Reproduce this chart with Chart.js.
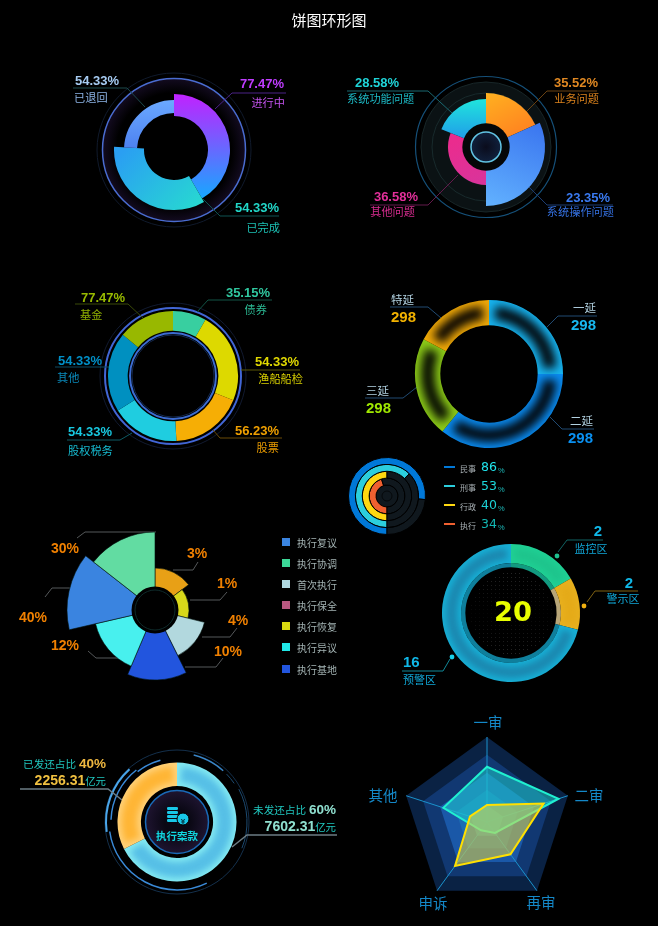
<!DOCTYPE html>
<html>
<head>
<meta charset="utf-8">
<script src="https://cdn.jsdelivr.net/npm/chart.js@4"></script>
<style>
html, body { margin: 0; background: #000; }
#stage { position: relative; width: 658px; height: 926px; overflow: hidden; background: #000;
  font-family: "Liberation Sans", "Noto Sans CJK SC", sans-serif; }
#stage canvas { position: absolute; z-index: 1; }
#under, #over { position: absolute; left: 0; top: 0; }
#under { z-index: 0; }
#over { z-index: 2; }
.t { position: absolute; z-index: 3; white-space: nowrap; line-height: 1; }
</style>
</head>
<body>
<div id="stage">
  <svg id="under" width="658" height="926">
    <defs>
      <radialGradient id="glow1"><stop offset="80%" stop-color="#000"/><stop offset="100%" stop-color="#130b20"/></radialGradient>
      <radialGradient id="core2"><stop offset="0%" stop-color="#0a0c1c"/><stop offset="100%" stop-color="#10203c"/></radialGradient>
      <radialGradient id="core7"><stop offset="40%" stop-color="#0a0814"/><stop offset="100%" stop-color="#1e1430"/></radialGradient>
    </defs>
  </svg>
  <svg id="over" width="658" height="926"></svg>
</div>
<script>
// 1 进行中 / 已完成 / 已退回
var statusNames = ['进行中', '已完成', '已退回'];
var statusSweep = [150, 123, 87];
var statusText = ['77.47%', '54.33%', '54.33%'];

// 2 问题分类
var issueNames = ['业务问题', '系统操作问题', '其他问题', '系统功能问题'];
var issueRadius = [54, 59, 38, 48];
var issueSweep = [65.7, 114.3, 111.6, 68.4];
var issueText = ['35.52%', '23.35%', '36.58%', '28.58%'];

// 3 资产
var assetNames = ['债券', '渔船船检', '股票', '股权税务', '其他', '基金'];
var assetSweep = [30, 82, 65, 61, 71.5, 50.5];
var assetText = ['35.15%', '54.33%', '56.23%', '54.33%', '54.33%', '77.47%'];

// 4 延期
var delayNames = ['一延', '二延', '三延', '特延'];
var delaySweep = [90, 129, 79, 62];
var delayText = ['298', '298', '298', '298'];

// small rings
var caseNames = ['民事', '刑事', '行政', '执行'];
var caseText = ['86', '53', '40', '34'];
var caseArc = [76.5, 62.5, 50, 45];

// 5 rose
var roseNames = ['执行复议', '执行协调', '首次执行', '执行保全', '执行恢复', '执行异议', '执行基地'];
var roseSliceNames = ['3%', '1%', '4%', '10%', '12%', '40%', '30%'];
var roseRadius = [42, 34, 51, 70, 61, 88, 78];
var roseSweep = [53, 51, 49.5, 49.5, 54, 51, 52];

// 6 区域
var zoneNames = ['监控区', '警示区', '预警区'];
var zoneSweep = [60, 44, 256];
var zoneText = ['2', '2', '16'];
var zoneTotal = '20';

// 7 案款
var fundNames = ['未发还', '已发还'];
var fundSweep = [243, 117];

// 8 radar
var radarNames = ['一审', '二审', '再审', '申诉', '其他'];
var radarCyan = [65, 88.5, 16, 12, 54];
var radarYellow = [20, 70, 47, 64, 21];
var radarLevels = [100, 79, 58, 38, 20];

var stage = document.getElementById('stage');
var under = document.getElementById('under');
var over = document.getElementById('over');
var SVGNS = 'http://www.w3.org/2000/svg';

function shape(layer, name, attrs) {
    var el = document.createElementNS(SVGNS, name);
    for (var k in attrs) el.setAttribute(k, attrs[k]);
    layer.appendChild(el);
    return el;
}
function ring(layer, cx, cy, r, stroke, w, fill) {
    shape(layer, 'circle', { cx: cx, cy: cy, r: r, stroke: stroke, 'stroke-width': w, fill: fill || 'none' });
}
function leader(points, color, w) {
    shape(under, 'polyline', { points: points, stroke: color, 'stroke-width': w || 1, fill: 'none' });
}
function arcLine(cx, cy, r, a0, a1, color, w) {
    var p = function (a) {
        var t = (a - 90) * Math.PI / 180;
        return (cx + r * Math.cos(t)).toFixed(1) + ' ' + (cy + r * Math.sin(t)).toFixed(1);
    };
    shape(under, 'path', { d: 'M' + p(a0) + ' A' + r + ' ' + r + ' 0 ' + (a1 - a0 > 180 ? 1 : 0) + ' 1 ' + p(a1),
        stroke: color, 'stroke-width': w, fill: 'none' });
}
// align: l, r or c. runs is a string or a list of [text, color, size, bold]
function put(x, y, runs, align, color, size, bold, extra) {
    var d = document.createElement('div');
    d.className = 't';
    if (typeof runs === 'string') runs = [[runs, color, size, bold]];
    runs.forEach(function (r) {
        var s = document.createElement('span');
        s.textContent = r[0];
        s.style.color = r[1];
        s.style.fontSize = r[2] + 'px';
        if (r[3]) s.style.fontWeight = 'bold';
        d.appendChild(s);
    });
    var tx = align === 'r' ? '-100%' : align === 'c' ? '-50%' : '0';
    d.style.left = x + 'px';
    d.style.top = y + 'px';
    d.style.transform = 'translate(' + tx + ',-50%)' + (extra || '');
    stage.appendChild(d);
    return d;
}
function mount(cx, cy, size) {
    var c = document.createElement('canvas');
    c.width = size;
    c.height = size;
    c.style.left = (cx - size / 2) + 'px';
    c.style.top = (cy - size / 2) + 'px';
    c.style.width = size + 'px';
    c.style.height = size + 'px';
    stage.appendChild(c);
    return c;
}
// gradient per slice, coordinates are relative to the chart centre
function grads(list) {
    return function (ctx) {
        var g = list[ctx.dataIndex];
        var m = ctx.chart.width / 2;
        var lg = ctx.chart.ctx.createLinearGradient(m + g[2], m + g[3], m + g[4], m + g[5]);
        lg.addColorStop(0, g[0]);
        lg.addColorStop(1, g[1]);
        return lg;
    };
}

function slicePath(ctx, a, ri, ro, s, e) {
    ctx.beginPath();
    ctx.arc(a.x, a.y, ro, s, e);
    ctx.arc(a.x, a.y, ri, e, s, true);
    ctx.closePath();
}
// every slice gets its own inner and outer radius
var sliceRadii = {
    id: 'sliceRadii',
    beforeDatasetsDraw: function (chart, args, opts) {
        if (!opts.outer) return;
        chart.getDatasetMeta(0).data.forEach(function (a, i) {
            a.outerRadius = opts.outer[i];
            a.innerRadius = opts.inner[i];
        });
    }
};
// soft core inside each slice so that only the rim stays bright
var sliceGlow = {
    id: 'sliceGlow',
    afterDatasetsDraw: function (chart, args, opts) {
        if (!opts.core) return;
        var ctx = chart.ctx;
        chart.getDatasetMeta(0).data.forEach(function (a, i) {
            var ri = a.innerRadius, ro = a.outerRadius;
            var da = opts.inset / ((ri + ro) / 2);
            ctx.save();
            slicePath(ctx, a, ri, ro, a.startAngle, a.endAngle);
            ctx.clip();
            ctx.filter = 'blur(' + opts.blur + 'px)';
            ctx.fillStyle = opts.core[i];
            slicePath(ctx, a, ri + opts.inset, ro - opts.inset, a.startAngle + da, a.endAngle - da);
            ctx.fill();
            ctx.restore();
        });
    }
};
Chart.defaults.animation = false;
Chart.defaults.responsive = false;
Chart.defaults.plugins.legend.display = false;
Chart.defaults.plugins.tooltip.enabled = false;
Chart.defaults.elements.arc.borderWidth = 0;
Chart.register(sliceRadii, sliceGlow);

put(329, 21, '饼图环形图', 'c', '#ffffff', 15);

// ---------- 1
ring(under, 174, 150, 77, '#101a2c', 1);
ring(under, 174, 150, 71.5, '#4a6cd0', 1.5, 'url(#glow1)');
new Chart(mount(174, 150, 130), {
    type: 'doughnut',
    data: { labels: statusNames, datasets: [{ data: statusSweep,
        backgroundColor: grads([
            ['#c41fff', '#14aaff', 0, -58, 0, 50],
            ['#2a9ff2', '#27dccf', -40, -10, 30, 60],
            ['#6ba9ff', '#4c80f0', 0, -50, 0, 0]
        ]) }] },
    options: { radius: 62, cutout: 30, plugins: { sliceRadii: { outer: [56, 60, 50], inner: [34, 30, 37] } } }
});
leader('73,88 127,88 145,107', '#1c4a4c');
leader('286,93 232,93 215,109', '#4a2286');
leader('279,216 220,216 203,199', '#0f5352');
put(75, 80, statusText[2], 'l', '#a6cbf2', 13, true);
put(74, 97, statusNames[2], 'l', '#8db4e6', 11.2);
put(284, 83, statusText[0], 'r', '#bf3cff', 13, true);
put(285, 102, statusNames[0], 'r', '#c452ef', 11.2);
put(279, 207, statusText[1], 'r', '#22d6c8', 13, true);
put(280, 227, statusNames[1], 'r', '#1cc0b4', 11.2);

// ---------- 2
ring(under, 486, 147, 70.5, '#155079', 1.2);
ring(under, 486, 147, 65, '#182628', 1, '#0b1214');
ring(under, 486, 147, 54, '#182a2c', 1);
ring(under, 486, 147, 38, '#101c1e', 1);
new Chart(mount(486, 147, 200), {
    type: 'polarArea',
    data: { labels: issueNames, datasets: [{ data: issueRadius, angle: issueSweep,
        backgroundColor: grads([
            ['#ffb020', '#ff7020', -5, -50, 30, 15],
            ['#3c78f0', '#62b2ff', 40, -25, 0, 59],
            ['#d8349c', '#ea2c8e', 0, 38, -20, -10],
            ['#20e8dc', '#20a0e8', 0, -50, 0, -10]
        ]) }] },
    options: { scales: { r: { display: false, min: 0, max: 100 } } }
});
ring(over, 486, 147, 23.7, 'none', 0, '#050708');
ring(over, 486, 147, 15, '#62c4e4', 1.5, 'url(#core2)');
leader('347,91 428,91 452,113', '#1a6870');
leader('597,91 547,91 526,112', '#6a4212');
leader('370,205 428,205 458,175', '#641a4c');
leader('613,205 547,205 529,187', '#1c3c72');
put(355, 82, issueText[3], 'l', '#1fd4d8', 13, true);
put(347, 98, issueNames[3], 'l', '#1cb8c4', 11.2);
put(598, 82, issueText[0], 'r', '#e08822', 13, true);
put(599, 98, issueNames[0], 'r', '#d8801c', 11.2);
put(418, 196, issueText[2], 'r', '#e2309a', 13, true);
put(415, 211, issueNames[2], 'r', '#d82c90', 11.2);
put(610, 197, issueText[1], 'r', '#3a7af0', 13, true);
put(614, 211, issueNames[1], 'r', '#3470e0', 11.2);

// ---------- 3
ring(under, 173, 376, 73, '#111a30', 1);
ring(under, 173, 376, 68, '#4266d6', 2);
ring(under, 173, 376, 43, '#3c6cd2', 2);
ring(under, 173, 376, 41, '#14284c', 1);
new Chart(mount(173, 376, 132), {
    type: 'doughnut',
    data: { labels: assetNames, datasets: [{ data: assetSweep,
        backgroundColor: ['#38cfa0', '#ddd900', '#f6ae05', '#1fcde0', '#0090c0', '#98b800'] }] },
    options: { radius: 65, cutout: 46 }
});
leader('75,304 128,304 143,318', '#3a4a08');
leader('272,300 208,300 197,312', '#125446');
leader('300,370 241,370', '#5a5606');
leader('282,438 220,438 213,430', '#6a4a06');
leader('67,440 120,440 132,433', '#0e5a64');
leader('55,367 112,367', '#0c4a62');
put(81, 297, assetText[5], 'l', '#98ba00', 13, true);
put(80, 314, assetNames[5], 'l', '#8eae00', 11.2);
put(270, 292, assetText[0], 'r', '#30c8a0', 13, true);
put(267, 309, assetNames[0], 'r', '#2cbc96', 11.2);
put(299, 361, assetText[1], 'r', '#e0d800', 13, true);
put(303, 378, assetNames[1], 'r', '#d6ce00', 11.2);
put(279, 430, assetText[2], 'r', '#f0a000', 13, true);
put(279, 447, assetNames[2], 'r', '#e89a00', 11.2);
put(68, 431, assetText[3], 'l', '#18c8e0', 13, true);
put(68, 450, assetNames[3], 'l', '#16bcd2', 11.2);
put(58, 360, assetText[4], 'l', '#0090c8', 13, true);
put(57, 377, assetNames[4], 'l', '#0a8abc', 11.2);

// ---------- 4
new Chart(mount(489, 374, 152), {
    type: 'doughnut',
    data: { labels: delayNames, datasets: [{ data: delaySweep,
        backgroundColor: ['#17b4f0', '#0a8cf2', '#8ccb18', '#f2aa08'] }] },
    options: { radius: 74, cutout: 50, plugins: { sliceGlow: {
        core: ['#03060a', '#03060a', '#040602', '#060402'], inset: 6, blur: 5 } } }
});
leader('597,316 558,316 547,327', '#204a72');
leader('594,429 562,429 550,417', '#204a72');
leader('365,398 403,398 417,387', '#204a72');
leader('390,307 428,307 441,318', '#204a72');
put(596, 307, delayNames[0], 'r', '#b2d2e2', 11.5);
put(596, 325, delayText[0], 'r', '#18b8f0', 15, true);
put(593, 420, delayNames[1], 'r', '#b2d2e2', 11.5);
put(593, 438, delayText[1], 'r', '#0a90f0', 15, true);
put(366, 390, delayNames[2], 'l', '#b2d2e2', 11.5);
put(366, 408, delayText[2], 'l', '#a0e800', 15, true);
put(391, 299, delayNames[3], 'l', '#b2d2e2', 11.5);
put(391, 317, delayText[3], 'l', '#f2b200', 15, true);

// ---------- small rings
var caseColors = ['#0078d8', '#2ccedd', '#ffd810', '#f06030'];
new Chart(mount(387, 496, 78), {
    type: 'doughnut',
    data: { labels: ['done', 'rest'], datasets: caseArc.map(function (v, i) {
        return { data: [v, 100 - v], backgroundColor: [caseColors[i], '#10181e'], borderColor: '#000', borderWidth: 1 };
    }) },
    options: { radius: 38.5, cutout: 11, rotation: 180 }
});
ring(under, 387, 496, 11, '#05080a', 1, '#10181e');
ring(under, 387, 496, 5, '#05080a', 1);
var caseRows = [467, 486, 505, 524];
var caseValueColors = ['#20e4ec', '#1cd8dc', '#1cd0d4', '#12b8b4'];
caseNames.forEach(function (n, i) {
    shape(under, 'rect', { x: 444, y: caseRows[i] - 1, width: 11, height: 2, fill: caseColors[i] });
    put(460, caseRows[i], n, 'l', '#a8b0b4', 8);
    var v = put(481, caseRows[i] - 1, caseText[i], 'l', caseValueColors[i], 12.5);
    v.style.fontFamily = '"DejaVu Sans", sans-serif';
    put(498, caseRows[i] + 1, '%', 'l', '#1cb8b8', 7.5);
});

// ---------- 5
new Chart(mount(155, 610, 200), {
    type: 'polarArea',
    data: { labels: roseSliceNames, datasets: [{ data: roseRadius, angle: roseSweep,
        backgroundColor: ['#e8a016', '#d8d81a', '#b2d8de', '#2255de', '#48f0ee', '#3a84e0', '#62dca2'],
        borderColor: '#04140f', borderWidth: 0.6 }] },
    options: { scales: { r: { display: false, min: 0, max: 100 } } }
});
ring(over, 155, 610, 23.5, 'none', 0, '#000');
ring(over, 155, 610, 20, '#0e2a2a', 1);
[['77,538 85,532 156,532', 65, 548, 6], ['198,562 193,570 173,570', 197, 553, 0],
 ['227,592 220,600 190,600', 227, 583, 1], ['237,628 230,637 202,637', 238, 620, 2],
 ['223,658 216,667 185,667', 228, 651, 3], ['88,651 96,658 122,658', 65, 645, 4],
 ['45,597 52,588 70,588', 33, 617, 5]].forEach(function (c) {
    leader(c[0], '#55585a');
    put(c[1], c[2], roseSliceNames[c[3]], 'c', '#f08000', 14, true);
});
var legendColors = ['#3a84e0', '#3cd898', '#b0d8e0', '#b85880', '#d8d810', '#20e8e8', '#2255de'];
var legendRows = [542, 563, 584, 605, 626, 647, 669];
roseNames.forEach(function (n, i) {
    shape(under, 'rect', { x: 282, y: legendRows[i] - 4, width: 8, height: 8, fill: legendColors[i] });
    put(297, legendRows[i], n, 'l', '#a4b4b4', 10);
});

// ---------- 6
for (var gx = -40; gx <= 40; gx += 4) {
    for (var gy = -40; gy <= 40; gy += 4) {
        var gr = Math.sqrt(gx * gx + gy * gy);
        if (gr < 41) shape(under, 'rect', { x: 511 + gx, y: 613 + gy, width: 1, height: 1, fill: '#262626',
            opacity: (0.15 + 0.85 * Math.abs(gy) / 40).toFixed(2) });
    }
}
new Chart(mount(511, 613, 142), {
    type: 'doughnut',
    data: { labels: zoneNames, datasets: [
        { data: zoneSweep, weight: 18, backgroundColor: ['#1fd094', '#e8b01e', '#17b0d6'] },
        { data: zoneSweep, weight: 4, backgroundColor: ['#129a80', '#b8a678', '#0f7f9c'] }
    ] },
    options: { radius: 69, cutout: 47, plugins: { sliceGlow: {
        core: ['#1ec48c', '#e4aa18', '#1b88b0'], inset: 4, blur: 3 } } }
});
leader('603,540 567,540 558,552', '#106464');
leader('638,591 595,591 587,602', '#806212');
leader('402,671 443,671 450,659', '#118898');
ring(under, 557, 556, 2.4, 'none', 0, '#1fc090');
ring(under, 584, 606, 2.4, 'none', 0, '#f0b010');
ring(under, 452, 657, 2.4, 'none', 0, '#18d0e8');
put(598, 531, zoneText[0], 'c', '#10b8e8', 15, true);
put(591, 548, zoneNames[0], 'c', '#10a8d8', 11);
put(629, 583, zoneText[1], 'c', '#10b8e8', 15, true);
put(623, 598, zoneNames[1], 'c', '#10a8d8', 11);
put(403, 662, zoneText[2], 'l', '#10b8e8', 15, true);
put(403, 679, zoneNames[2], 'l', '#10a8d8', 11);
var totalEl = put(513, 612, zoneTotal, 'c', '#e8ff00', 26, true, ' scaleX(1.05)');
totalEl.style.fontFamily = '"DejaVu Sans", sans-serif';

// ---------- 7
ring(under, 177, 822, 72, '#14304c', 1);
arcLine(177, 822, 71, 262, 318, '#4aa6ea', 2);
arcLine(177, 822, 66, 272, 322, '#3a8ad8', 1.5);
arcLine(177, 822, 68, 154, 262, '#3a8ad8', 1.5);
arcLine(177, 822, 64, 322, 345, '#3a8ad8', 1.5);
arcLine(177, 822, 69, 14, 42, '#3a86c8', 1.5);
arcLine(177, 822, 69, 46, 56, '#1c4a70', 1);
arcLine(177, 822, 70, 62, 112, '#1c4a70', 1);
new Chart(mount(177, 822, 122), {
    type: 'doughnut',
    data: { labels: fundNames, datasets: [{ data: fundSweep, backgroundColor: ['#84eaf2', '#ffd27a'] }] },
    options: { radius: 59.5, cutout: 37, plugins: { sliceGlow: { core: ['#56bfe6', '#ffb535'], inset: 4, blur: 3 } } }
});
ring(under, 177, 822, 31.5, '#1a6ab8', 1.5, 'url(#core7)');
[807, 811, 815, 819].forEach(function (y) {
    shape(under, 'rect', { x: 167, y: y, width: 11, height: 3, rx: 1.2, fill: '#18c8e8' });
});
ring(under, 183, 819, 6, '#000', 1, '#18c8e8');
put(183, 819, '¥', 'c', '#04303c', 8, true);
put(177, 835, '执行案款', 'c', '#10d8e0', 10.5, true);
leader('20,789 108,789 122,800', '#6c7c84', 1.5);
leader('337,835 247,835 232,847', '#6c7c84', 1.5);
put(106, 763, [['已发还占比 ', '#20c8c0', 10.6, false], ['40%', '#f0b840', 13.5, true]], 'r');
put(106, 780, [['2256.31', '#f0c040', 14, true], ['亿元', '#20c8c0', 10.4, false]], 'r');
put(336, 809, [['未发还占比 ', '#20c8c0', 10.6, false], ['60%', '#90e0d0', 13.5, true]], 'r');
put(336, 826, [['7602.31', '#90e0d0', 14, true], ['亿元', '#20c8c0', 10.4, false]], 'r');

// ---------- 8
var bandColors = ['#0a2244', '#113872', '#1a58a8', '#1b6cb4', '#2388c0'];
var radarBands = {
    id: 'radarBands',
    beforeDraw: function (chart) {
        var ctx = chart.ctx, r = chart.scales.r;
        radarLevels.forEach(function (lv, b) {
            ctx.beginPath();
            radarNames.forEach(function (n, i) {
                var p = r.getPointPositionForValue(i, lv);
                if (i) ctx.lineTo(p.x, p.y); else ctx.moveTo(p.x, p.y);
            });
            ctx.closePath();
            ctx.fillStyle = bandColors[b];
            ctx.fill();
        });
    }
};
new Chart(mount(487, 822, 190), {
    type: 'radar',
    data: { labels: radarNames, datasets: [
        { data: radarYellow, borderColor: '#ffe000', borderWidth: 2, backgroundColor: 'rgba(228,214,64,0.55)', pointRadius: 0 },
        { data: radarCyan, borderColor: '#20f0d0', borderWidth: 2, backgroundColor: 'rgba(30,216,210,0.5)', pointRadius: 0 }
    ] },
    options: {
        layout: { padding: 10 },
        scales: { r: { min: 0, max: 100,
            ticks: { display: false },
            grid: { display: false },
            angleLines: { color: '#1a92cc', lineWidth: 1 },
            pointLabels: { display: false } } }
    },
    plugins: [radarBands]
});
var radarSpots = [[488, 723], [589, 796], [541, 903], [433, 904], [383, 796]];
radarNames.forEach(function (n, i) {
    put(radarSpots[i][0], radarSpots[i][1], n, 'c', '#1488c8', 14.5);
});
</script>
</body>
</html>
